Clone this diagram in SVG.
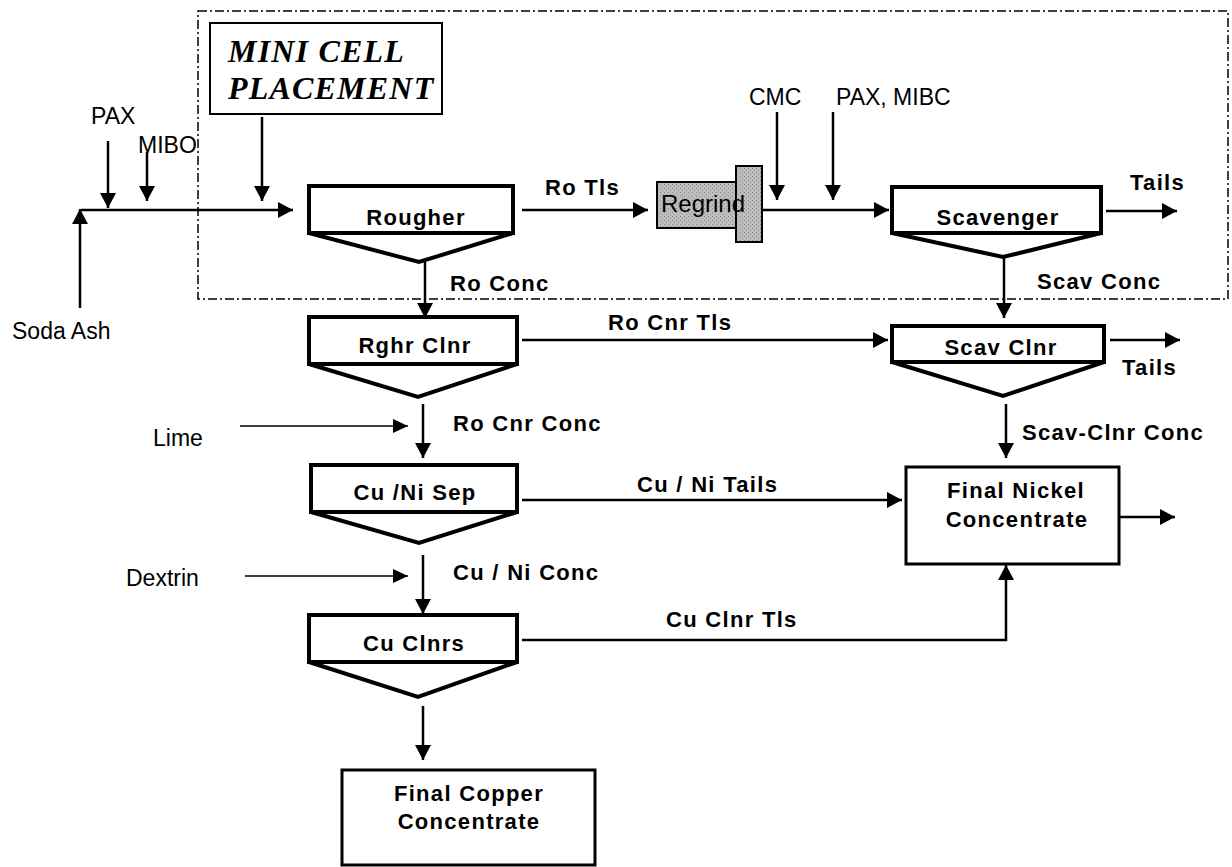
<svg xmlns="http://www.w3.org/2000/svg" width="1232" height="867" viewBox="0 0 1232 867">
<style>
.cell{fill:#fff;stroke:#000;stroke-width:4;stroke-linejoin:miter}
.box{fill:#fff;stroke:#000;stroke-width:3}
.ln{fill:none;stroke:#000;stroke-width:2.5}
.thin{fill:none;stroke:#000;stroke-width:1.6}
.b{font-family:"Liberation Sans",Arial,sans-serif;font-weight:bold;font-size:22px;letter-spacing:1.3px;fill:#000}
.n{font-family:"Liberation Sans",Arial,sans-serif;font-size:23px;fill:#000}
.mc{font-family:"Liberation Serif","Times New Roman",serif;font-weight:bold;font-style:italic;font-size:32px;letter-spacing:1.2px;fill:#000}
</style>
<defs>
<marker id="ah" markerUnits="userSpaceOnUse" markerWidth="16" markerHeight="16" refX="15" refY="8" orient="auto">
<path d="M0,0 L15,8 L0,16 z" fill="#000"/>
</marker>
<marker id="ahs" markerUnits="userSpaceOnUse" markerWidth="16" markerHeight="14" refX="15" refY="7" orient="auto">
<path d="M0,0 L15,7 L0,14 z" fill="#000"/>
</marker>
<pattern id="stip" width="4" height="4" patternUnits="userSpaceOnUse">
<rect width="4" height="4" fill="#bdbdbd"/>
<rect x="0" y="0" width="1" height="1" fill="#8a8a8a"/>
<rect x="2" y="2" width="1" height="1" fill="#9a9a9a"/>
</pattern>
</defs>

<g id="minicell-zone">
<rect x="198" y="11" width="1030" height="288" fill="none" stroke="#000" stroke-width="1.5" stroke-dasharray="9 3 2 3"/>
</g>

<g id="minicell-label">
<rect x="210" y="23" width="232" height="91" fill="#fff" stroke="#000" stroke-width="2"/>
<text class="mc" x="228" y="62">MINI CELL</text>
<text class="mc" x="228" y="99">PLACEMENT</text>
</g>

<g id="connectors">
<line class="ln" x1="81" y1="210" x2="293" y2="210" marker-end="url(#ah)"/>
<line class="ln" x1="80" y1="308" x2="80" y2="209" marker-end="url(#ah)"/>
<line class="ln" x1="108" y1="141" x2="108" y2="208" marker-end="url(#ah)"/>
<line class="ln" x1="147" y1="152" x2="147" y2="201" marker-end="url(#ah)"/>
<line class="ln" x1="262" y1="117" x2="262" y2="201" marker-end="url(#ah)"/>
<line class="ln" x1="522" y1="210" x2="648" y2="210" marker-end="url(#ah)"/>
<line class="ln" x1="762" y1="210" x2="889" y2="210" marker-end="url(#ah)"/>
<line class="ln" x1="777" y1="112" x2="777" y2="200" marker-end="url(#ah)"/>
<line class="ln" x1="833" y1="112" x2="833" y2="200" marker-end="url(#ah)"/>
<line class="ln" x1="1106" y1="211" x2="1177" y2="211" marker-end="url(#ah)"/>
<line class="ln" x1="425" y1="262" x2="425" y2="318" marker-end="url(#ah)"/>
<line class="ln" x1="1004" y1="258" x2="1004" y2="318" marker-end="url(#ah)"/>
<line class="ln" x1="522" y1="340" x2="888" y2="340" marker-end="url(#ah)"/>
<line class="ln" x1="1110" y1="340" x2="1180" y2="340" marker-end="url(#ah)"/>
<line class="ln" x1="423" y1="404" x2="423" y2="458" marker-end="url(#ah)"/>
<line class="thin" x1="240" y1="426" x2="408" y2="426" marker-end="url(#ahs)"/>
<line class="ln" x1="1006" y1="404" x2="1006" y2="458" marker-end="url(#ah)"/>
<line class="ln" x1="522" y1="500" x2="902" y2="500" marker-end="url(#ah)"/>
<line class="ln" x1="1120" y1="517" x2="1175" y2="517" marker-end="url(#ah)"/>
<line class="ln" x1="423" y1="555" x2="423" y2="614" marker-end="url(#ah)"/>
<line class="thin" x1="245" y1="576" x2="408" y2="576" marker-end="url(#ahs)"/>
<polyline class="ln" points="522,640 1006,640 1006,565" marker-end="url(#ah)"/>
<line class="ln" x1="423" y1="706" x2="423" y2="760" marker-end="url(#ah)"/>
</g>

<g id="labels">
<text class="n" x="91" y="124">PAX</text>
<text class="n" x="138" y="153">MIBO</text>
<text class="n" x="12" y="339">Soda Ash</text>
<text class="n" x="153" y="446">Lime</text>
<text class="n" x="126" y="586">Dextrin</text>
<text class="n" x="749" y="105">CMC</text>
<text class="n" x="836" y="105">PAX, MIBC</text>
<text class="b" x="545" y="195">Ro Tls</text>
<text class="b" x="1130" y="190">Tails</text>
<text class="b" x="450" y="291">Ro Conc</text>
<text class="b" x="1037" y="289">Scav Conc</text>
<text class="b" x="608" y="330">Ro Cnr Tls</text>
<text class="b" x="1122" y="375">Tails</text>
<text class="b" x="453" y="431">Ro Cnr Conc</text>
<text class="b" x="1022" y="440">Scav-Clnr Conc</text>
<text class="b" x="637" y="492">Cu / Ni Tails</text>
<text class="b" x="453" y="580">Cu / Ni Conc</text>
<text class="b" x="666" y="627">Cu Clnr Tls</text>
</g>

<g id="rougher">
<path class="cell" d="M309,233 L419,262 L513,233 Z"/>
<rect class="cell" x="309" y="186" width="204" height="47"/>
<text class="b" x="416" y="225" text-anchor="middle">Rougher</text>
</g>

<g id="regrind">
<rect x="657" y="182" width="80" height="46" fill="url(#stip)" stroke="#000" stroke-width="2"/>
<rect x="736" y="166" width="26" height="76" fill="url(#stip)" stroke="#000" stroke-width="2"/>
<text class="n" x="661" y="212" style="font-size:24px">Regrind</text>
</g>

<g id="scavenger">
<path class="cell" d="M892,233 L1003,257 L1101,233 Z"/>
<rect class="cell" x="892" y="187" width="209" height="46"/>
<text class="b" x="998" y="225" text-anchor="middle">Scavenger</text>
</g>

<g id="rghr-clnr">
<path class="cell" d="M309,364 L418,397 L517,364 Z"/>
<rect class="cell" x="309" y="317" width="208" height="47"/>
<text class="b" x="415" y="353" text-anchor="middle">Rghr Clnr</text>
</g>

<g id="scav-clnr">
<path class="cell" d="M892,362 L1003,396 L1104,362 Z"/>
<rect class="cell" x="892" y="326" width="212" height="36"/>
<text class="b" x="1001" y="355" text-anchor="middle">Scav Clnr</text>
</g>

<g id="cu-ni-sep">
<path class="cell" d="M311,512 L419,543 L517,512 Z"/>
<rect class="cell" x="311" y="465" width="206" height="47"/>
<text class="b" x="415" y="500" text-anchor="middle">Cu /Ni Sep</text>
</g>

<g id="cu-clnrs">
<path class="cell" d="M309,662 L418,697 L517,662 Z"/>
<rect class="cell" x="309" y="615" width="208" height="47"/>
<text class="b" x="414" y="651" text-anchor="middle">Cu Clnrs</text>
</g>

<g id="final-nickel">
<rect class="box" x="906" y="467" width="213" height="97"/>
<text class="b" x="1016" y="498" text-anchor="middle">Final Nickel</text>
<text class="b" x="1017" y="527" text-anchor="middle">Concentrate</text>
</g>

<g id="final-copper">
<rect class="box" x="342" y="770" width="253" height="95"/>
<text class="b" x="469" y="801" text-anchor="middle">Final Copper</text>
<text class="b" x="469" y="829" text-anchor="middle">Concentrate</text>
</g>
</svg>
